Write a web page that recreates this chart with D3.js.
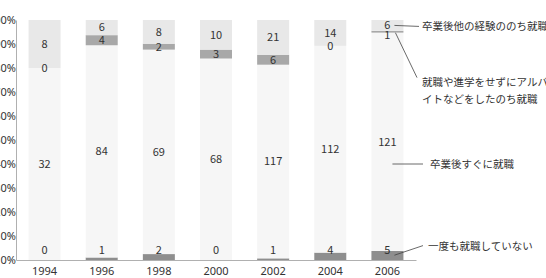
<!DOCTYPE html>
<html>
<head>
<meta charset="utf-8">
<script src="https://cdn.jsdelivr.net/npm/d3@7"></script>
<style>
  body { margin: 0; background: #fff; }
  svg { display: block; font-family: "Noto Sans CJK JP", "Noto Sans", sans-serif; }
</style>
</head>
<body>
<div id="chart"></div>
<script>
// Data (counts per graduation year)
const years = ["1994", "1996", "1998", "2000", "2002", "2004", "2006"];
const neverEmployed = [0, 1, 2, 0, 1, 4, 5];       // 一度も就職していない
const employedSoon = [32, 84, 69, 68, 117, 112, 121]; // 卒業後すぐに就職
const afterPartTime = [0, 4, 2, 3, 6, 0, 1];        // アルバイトなどをしたのち就職
const afterOther = [8, 6, 8, 10, 21, 14, 6];        // 卒業後他の経験ののち就職
const yTicks = [0, 10, 20, 30, 40, 50, 60, 70, 80, 90, 100];

const seriesNames = ["never", "soon", "parttime", "other"];
const colors = { never: "#8e8e8e", soon: "#f6f6f6", parttime: "#a8a8a8", other: "#e8e8e8" };

const table = years.map((y, i) => ({
    year: y,
    never: neverEmployed[i],
    soon: employedSoon[i],
    parttime: afterPartTime[i],
    other: afterOther[i]
}));

const width = 546, height = 278;
const margin = { top: 20, right: 130, bottom: 18, left: 16 };
const innerWidth = width - margin.left - margin.right;
const innerHeight = height - margin.top - margin.bottom;

const svg = d3.select("#chart").append("svg")
    .attr("width", width)
    .attr("height", height);

const g = svg.append("g")
    .attr("transform", `translate(${margin.left},${margin.top})`);

const x = d3.scaleBand()
    .domain(years)
    .range([0, innerWidth])
    .paddingInner(0.44)
    .paddingOuter(0.22);

const y = d3.scaleLinear()
    .domain([0, 100])
    .range([innerHeight, 0]);

// normalise each year to percent and stack
const pctTable = table.map(d => {
    const total = seriesNames.reduce((s, k) => s + d[k], 0);
    const o = { year: d.year };
    seriesNames.forEach(k => { o[k] = d[k] / total * 100; });
    return o;
});
const stacked = d3.stack().keys(seriesNames)(pctTable);

// Bars
const layers = g.selectAll(".layer")
    .data(stacked)
    .enter().append("g")
    .attr("fill", d => colors[d.key]);

layers.selectAll("rect")
    .data(d => d)
    .enter().append("rect")
    .attr("x", d => x(d.data.year))
    .attr("y", d => y(d[1]))
    .attr("width", x.bandwidth())
    .attr("height", d => y(d[0]) - y(d[1]));

// Value labels
stacked.forEach(layer => {
    layer.forEach((d, i) => {
        const raw = table[i][layer.key];
        const h = y(d[0]) - y(d[1]);
        let cy = (y(d[0]) + y(d[1])) / 2;
        if (layer.key === "never") cy = y(0) - 10;
        else if (h > 0 && h < 3) cy += 3; // keep thin slices from colliding
        g.append("text")
            .attr("x", x(d.data.year) + x.bandwidth() / 2)
            .attr("y", cy)
            .attr("dy", "0.35em")
            .attr("text-anchor", "middle")
            .attr("font-size", "11px")
            .attr("fill", "#333")
            .text(raw);
    });
});

// Axes
const yAxis = g.append("g")
    .call(d3.axisLeft(y).tickValues(yTicks).tickSize(0).tickPadding(0).tickFormat(d => d + "%"));
yAxis.select(".domain").attr("stroke", "#b0b0b0");
yAxis.selectAll("text").attr("font-size", "11px").attr("fill", "#333")
    .attr("font-family", "'Noto Sans', sans-serif");

const xAxis = g.append("g")
    .attr("transform", `translate(0,${innerHeight})`)
    .call(d3.axisBottom(x).tickSize(0).tickPadding(7));
xAxis.select(".domain").attr("stroke", "#b0b0b0");
xAxis.selectAll("text").attr("font-size", "11px").attr("fill", "#333")
    .attr("font-family", "'Noto Sans', sans-serif");

// Annotation leaders for the last year
const last = years.length - 1;
const bx = x(years[last]);
const bw = x.bandwidth();
const segMid = key => {
    const s = stacked.find(l => l.key === key)[last];
    return (y(s[0]) + y(s[1])) / 2;
};
const labelX = innerWidth + 5;

const notes = [
    { lines: ["卒業後他の経験ののち就職"], x1: bx + bw / 2 + 7, y1: segMid("other"), x2: labelX - 2, y2: segMid("other") + 1, tx: labelX + 1, ty: segMid("other") + 1 },
    { lines: ["就職や進学をせずにアルバ", "イトなどをしたのち就職"], x1: bx + bw / 2 + 8, y1: segMid("parttime") + 1, x2: labelX - 4, y2: y(76), tx: labelX + 1, ty: y(74) },
    { lines: ["卒業後すぐに就職"], x1: bx + bw / 2 + 5, y1: y(40), x2: labelX + 2, y2: y(40), tx: labelX + 9, ty: y(40) },
    { lines: ["一度も就職していない"], x1: bx + bw / 2 + 7, y1: y(2), x2: labelX + 2, y2: y(6), tx: labelX + 7, ty: y(5.5) }
];

notes.forEach(n => {
    g.append("line")
        .attr("x1", n.x1).attr("y1", n.y1)
        .attr("x2", n.x2).attr("y2", n.y2)
        .attr("stroke", "#444").attr("stroke-width", 0.8);
    const t = g.append("text")
        .attr("x", n.tx)
        .attr("y", n.ty)
        .attr("font-size", "10.5px")
        .attr("fill", "#333");
    n.lines.forEach((ln, i) => {
        t.append("tspan")
            .attr("x", n.tx)
            .attr("dy", i === 0 ? "0.35em" : "1.6em")
            .text(ln);
    });
});
</script>
</body>
</html>
